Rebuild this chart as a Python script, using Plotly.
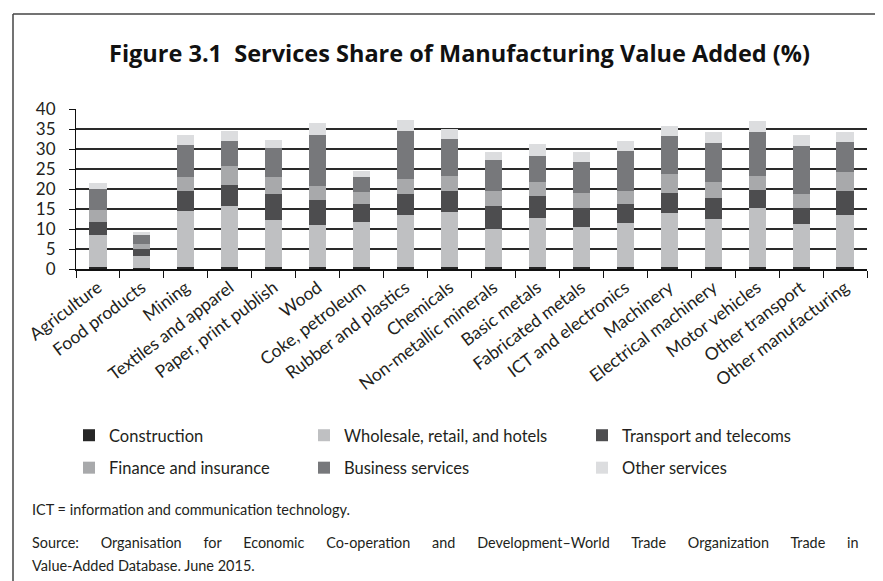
import plotly.graph_objects as go

categories = ["Agriculture", "Food products", "Mining", "Textiles and apparel",
              "Paper, print publish", "Wood", "Coke, petroleum", "Rubber and plastics",
              "Chemicals", "Non-metallic minerals", "Basic metals", "Fabricated metals",
              "ICT and electronics", "Machinery", "Electrical machinery", "Motor vehicles",
              "Other transport", "Other manufacturing"]

construction = [0.4, 0.3, 0.4, 0.4, 0.4, 0.4, 0.4, 0.4, 0.4, 0.4, 0.4, 0.4, 0.4, 0.4, 0.4, 0.4, 0.4, 0.4]
wholesale = [8.1, 2.9, 14.1, 15.35, 11.8, 10.5, 11.3, 13.0, 13.8, 9.5, 12.3, 10.0, 11.0, 13.5, 12.0, 14.8, 10.8, 13.0]
transport = [3.2, 1.7, 5.0, 5.25, 6.55, 6.3, 4.5, 5.3, 5.2, 5.8, 5.5, 4.8, 4.8, 5.0, 5.3, 4.5, 4.0, 6.0]
finance = [3.0, 1.4, 3.5, 4.75, 4.25, 3.5, 3.0, 3.7, 3.8, 3.7, 3.5, 3.7, 3.2, 4.8, 4.0, 3.5, 3.5, 4.8]
business = [5.3, 2.1, 8.0, 6.25, 7.25, 12.7, 3.7, 12.0, 9.2, 7.8, 6.5, 7.8, 10.0, 9.5, 9.7, 11.0, 12.0, 7.5]
other = [1.5, 0.9, 2.5, 2.5, 2.0, 3.0, 1.7, 2.8, 2.6, 2.0, 3.0, 2.5, 2.5, 2.5, 2.8, 2.7, 2.7, 2.5]

series = [
    ("Construction", construction, "#262626", "legend"),
    ("Wholesale, retail, and hotels", wholesale, "#bfc0c2", "legend2"),
    ("Transport and telecoms", transport, "#4d4d4f", "legend3"),
    ("Finance and insurance", finance, "#a8a9ab", "legend"),
    ("Business services", business, "#77787b", "legend2"),
    ("Other services", other, "#dcdddf", "legend3"),
]

W, H = 883, 581
ML, MR, MT, MB = 68, 24, 101, 320
PW, PH = W - ML - MR, H - MT - MB

def px(x):
    return (x - ML) / PW

def py(y):
    return 1 - (y - MT) / PH

TXT = "#231f20"
FONT = "Lato"

fig = go.Figure()
for name, vals, col, lg in series:
    fig.add_trace(go.Bar(x=categories, y=vals, name=name, marker_color=col,
                         marker_line_width=0, legend=lg, legendgroup=name))

leg_common = dict(xanchor="left", yanchor="top", orientation="v", tracegroupgap=8,
                  font=dict(size=16.5, family=FONT, color=TXT), bgcolor="rgba(0,0,0,0)")

fig.update_layout(
    width=W, height=H, barmode="stack", bargap=0.61,
    margin=dict(l=ML, r=MR, t=MT, b=MB, autoexpand=False),
    paper_bgcolor="white", plot_bgcolor="white",
    font=dict(family=FONT, size=15, color=TXT),
    xaxis=dict(showline=True, linecolor="#111", linewidth=1.5, ticks="outside",
               tickson="boundaries", ticklen=7, tickcolor="#111", tickwidth=1.2,
               tickangle=-37, tickfont=dict(size=17.5, family=FONT, color=TXT)),
    yaxis=dict(range=[0, 40], dtick=5, showgrid=True, gridcolor="#2a2a2a", gridwidth=1.5,
               showline=True, linecolor="#111", linewidth=1.2, ticks="outside",
               ticklen=6, tickcolor="#111", zeroline=False, ticklabelstandoff=10,
               tickfont=dict(size=17, family=FONT, color=TXT)),
    showlegend=True,
    legend=dict(x=px(61), y=py(410), **leg_common),
    legend2=dict(x=px(296), y=py(410), **leg_common),
    legend3=dict(x=px(574), y=py(410), **leg_common),
)

# figure frame (left and top edges)
fig.add_shape(type="line", xref="paper", yref="paper", x0=px(5), x1=px(5), y0=py(6), y1=py(600),
              line=dict(color="#444", width=1.5))
fig.add_shape(type="line", xref="paper", yref="paper", x0=px(5), x1=px(890), y0=py(6), y1=py(6),
              line=dict(color="#444", width=1.5))

fig.add_annotation(text="<b>Figure 3.1  Services Share of Manufacturing Value Added (%)</b>",
                   xref="paper", yref="paper", x=px(451), y=py(45), xanchor="center",
                   yanchor="middle", showarrow=False,
                   font=dict(family="Open Sans", size=23.5, color="#111"))

G = " \u2003  "
source_line = G.join(["Source:", "Organisation", "for", "Economic", "Co-operation", "and",
                      "Development–World", "Trade", "Organization", "Trade", "in"])

fig.add_annotation(text="ICT = information and communication technology.",
                   xref="paper", yref="paper", x=px(22), y=py(501), xanchor="left",
                   yanchor="middle", showarrow=False, font=dict(size=14.5, family=FONT, color=TXT))
fig.add_annotation(text=source_line,
                   xref="paper", yref="paper", x=px(22), y=py(534), xanchor="left",
                   yanchor="middle", showarrow=False, font=dict(size=14.4, family=FONT, color=TXT))
fig.add_annotation(text="Value-Added Database. June 2015.",
                   xref="paper", yref="paper", x=px(22), y=py(557), xanchor="left",
                   yanchor="middle", showarrow=False, font=dict(size=14.5, family=FONT, color=TXT))

fig.write_html("out.html")
